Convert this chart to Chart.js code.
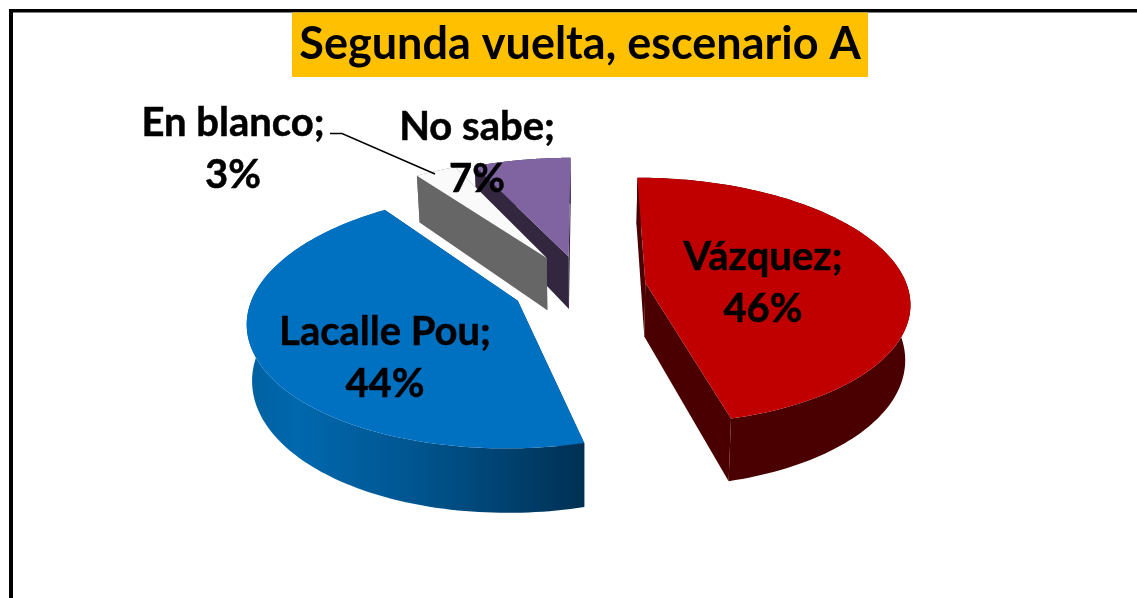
<!DOCTYPE html>
<html>
<head>
<meta charset="utf-8">
<style>html,body{margin:0;padding:0;background:#fff}#w{position:relative;width:1137px;height:598px}</style>
<script src="https://cdn.jsdelivr.net/npm/chart.js@4"></script>
</head>
<body>
<div id="w"><canvas id="c" width="1137" height="598"></canvas></div>
<script>
const categories = ['Vázquez', 'Lacalle Pou', 'En blanco', 'No sabe'];
const values = [46, 44, 3, 7];
const sliceColors = ['#c00000', '#0070c0', '#fafafa', '#8064a2'];
const wallColors = ['#4a0000', '#00406e', '#666666', '#33263f'];
const sliceOffsets = [65, 73, 76, 70];
const chartTitle = 'Segunda vuelta, escenario A';

const FONT = 'Lato, Carlito, sans-serif';
const labelPos = [[763, 270], [385, 345], [233, 136], [477, 140]];
const LINE_GAP = 52, LABEL_SIZE = 40;
const R = 270, RX = 262, RY = 121.5, P = 0.146, DEPTH = 54, CONVERGE = 0.016, CAM_DX = 3;

const pie3d = {
  id: 'pie3d',
  beforeDraw(chart) {
    const c = chart.ctx;
    c.save();
    c.fillStyle = '#fff'; c.fillRect(0, 0, chart.width, chart.height);
    c.fillStyle = '#000';
    c.fillRect(9, 9, chart.width - 9, 3.5);
    c.fillRect(9, 9, 4, chart.height - 9);
    c.fillStyle = '#ffc000';
    c.fillRect(292, 12.5, 576, 64.5);
    c.restore();
  },
  beforeDatasetDraw(chart, args) {
    const c = chart.ctx, els = args.meta.data;
    [3, 2, 0, 1].forEach(i => drawSlice(c, els[i], i));
    return false;
  },
  afterDraw(chart) {
    const c = chart.ctx;
    c.save();
    c.strokeStyle = '#000'; c.lineWidth = 1.5;
    c.beginPath(); c.moveTo(330, 133.5); c.lineTo(342, 133.5); c.lineTo(435, 174); c.stroke();
    c.fillStyle = '#000';
    c.lineWidth = 0.5;
    c.font = 'bold ' + LABEL_SIZE + 'px ' + FONT;
    c.textAlign = 'center'; c.textBaseline = 'alphabetic';
    categories.forEach((cat, i) => {
      const [x, y] = labelPos[i];
      c.fillText(cat + ';', x, y); c.strokeText(cat + ';', x, y);
      c.fillText(values[i] + '%', x, y + LINE_GAP); c.strokeText(values[i] + '%', x, y + LINE_GAP);
    });
    c.restore();
  }
};

function drawSlice(c, el, i) {
  const g = el.getProps(['x', 'y', 'startAngle', 'endAngle', 'outerRadius']);
  const mid = (g.startAngle + g.endAngle) / 2, off = el.options.offset;
  const ox = off * Math.cos(mid), oy = off * Math.sin(mid);
  const camX = g.x + CAM_DX, camY = g.y;
  const proj = (px, py) => {
    const u = px / g.outerRadius, v = py / g.outerRadius, w = 1 - P * v;
    return { x: camX + RX * u / w, y: camY + RY * v / w,
             bx: camX + (RX * u / w) * (1 - CONVERGE), by: camY + (RY * v + DEPTH) / w };
  };
  const apex = proj(ox, oy), arc = [];
  const n = 120;
  for (let k = 0; k <= n; k++) {
    const a = g.startAngle + (g.endAngle - g.startAngle) * k / n;
    arc.push(proj(ox + g.outerRadius * Math.cos(a), oy + g.outerRadius * Math.sin(a)));
  }
  const quad = (p, q) => {
    c.beginPath(); c.moveTo(p.x, p.y); c.lineTo(q.x, q.y); c.lineTo(q.bx, q.by); c.lineTo(p.bx, p.by);
    c.closePath(); c.fillStyle = wallColors[i]; c.fill();
  };
  c.save();
  quad(apex, arc[0]);
  quad(apex, arc[n]);
  // outer curved wall
  c.beginPath();
  arc.forEach((p, k) => k ? c.lineTo(p.x, p.y) : c.moveTo(p.x, p.y));
  for (let k = n; k >= 0; k--) c.lineTo(arc[k].bx, arc[k].by);
  c.closePath();
  let fill = wallColors[i];
  if (i === 1) {
    fill = c.createLinearGradient(245, 0, 586, 0);
    fill.addColorStop(0, '#00609f'); fill.addColorStop(0.15, '#0068ae');
    fill.addColorStop(0.5, '#00558f'); fill.addColorStop(0.8, '#003f6c'); fill.addColorStop(1, '#003052');
  }
  c.fillStyle = fill; c.fill();
  // top face
  c.beginPath(); c.moveTo(apex.x, apex.y);
  arc.forEach(p => c.lineTo(p.x, p.y));
  c.closePath();
  c.fillStyle = el.options.backgroundColor; c.fill();
  c.restore();
}

new Chart(document.getElementById('c'), {
  type: 'pie',
  data: {
    labels: categories,
    datasets: [{ data: values, backgroundColor: sliceColors, offset: sliceOffsets, borderWidth: 0 }]
  },
  options: {
    responsive: false,
    animation: false,
    radius: R,
    layout: { padding: { left: 23, right: 0, top: 0, bottom: 106 } },
    plugins: {
      legend: { display: false },
      tooltip: { enabled: false },
      title: {
        display: true, text: chartTitle, color: '#000',
        font: { family: FONT, size: 45, weight: 'bold', lineHeight: 1.2 },
        padding: { top: 17, bottom: 10 }
      }
    }
  },
  plugins: [pie3d]
});
</script>
</body>
</html>
